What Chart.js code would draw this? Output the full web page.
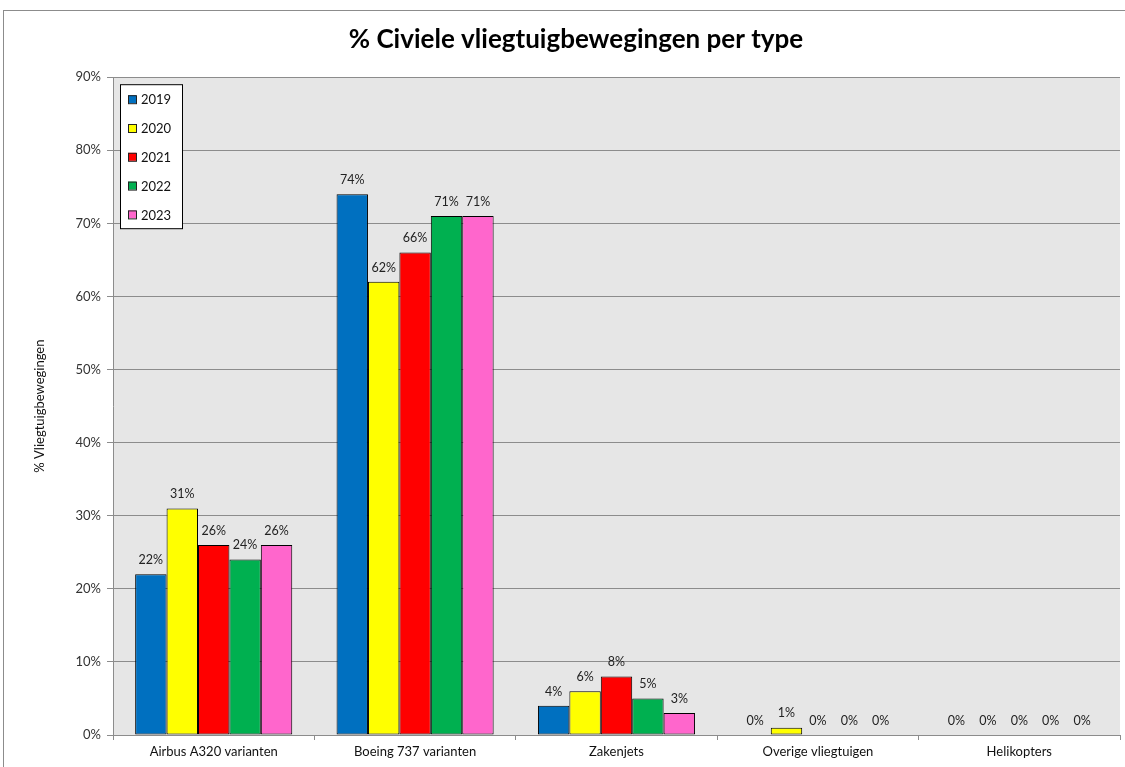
<!DOCTYPE html>
<html>
<head>
<meta charset="utf-8">
<script src="https://cdn.jsdelivr.net/npm/chart.js@4.4.0/dist/chart.umd.min.js"></script>
<style>
  html, body { margin: 0; padding: 0; background: #fff; }
  #wrap { width: 1125px; height: 767px; }
</style>
</head>
<body>
<div id="wrap"><canvas id="myChart" width="1125" height="767"></canvas></div>
<script>
const categories = ['Airbus A320 varianten', 'Boeing 737 varianten', 'Zakenjets', 'Overige vliegtuigen', 'Helikopters'];
const years = ['2019', '2020', '2021', '2022', '2023'];
const v2019 = [22, 74, 4, 0, 0];
const v2020 = [31, 62, 6, 1, 0];
const v2021 = [26, 66, 8, 0, 0];
const v2022 = [24, 71, 5, 0, 0];
const v2023 = [26, 71, 3, 0, 0];
const yearColors = ['#0070c0', '#ffff00', '#ff0000', '#00b050', '#ff66cc'];

const FONT = 'Lato, "Open Sans", sans-serif';

// achtergrond, rand, labels en legenda zoals in Excel
const excelLook = {
   id: 'excelLook',
   beforeDraw(chart) {
      const c = chart.ctx;
      const a = chart.chartArea;
      c.save();
      c.fillStyle = '#fff';
      c.fillRect(0, 0, chart.width, chart.height);
      c.strokeStyle = '#8c8c8c';
      c.lineWidth = 1;
      c.strokeRect(3.5, 10.5, chart.width + 10, chart.height + 10);
      c.fillStyle = '#e6e6e6';
      c.fillRect(a.left, a.top, a.right - a.left, a.bottom - a.top);
      c.restore();
   },
   afterDatasetsDraw(chart) {
      const c = chart.ctx;
      c.save();
      c.font = '12.5px ' + FONT;
      c.fillStyle = '#222';
      c.textAlign = 'center';
      c.textBaseline = 'bottom';
      chart.data.datasets.forEach((ds, i) => {
         chart.getDatasetMeta(i).data.forEach((bar, j) => {
            c.fillText(ds.data[j] + '%', bar.x, bar.y - 8);
         });
      });
      c.restore();
   },
   afterDraw(chart) {
      const c = chart.ctx;
      const a = chart.chartArea;
      const bx = a.left + 7, by = a.top + 7;
      c.save();
      c.fillStyle = '#fff';
      c.fillRect(bx, by, 62, 144);
      c.strokeStyle = '#000';
      c.lineWidth = 1;
      c.strokeRect(bx + 0.5, by + 0.5, 62, 144);
      c.font = '13px ' + FONT;
      c.textBaseline = 'middle';
      c.textAlign = 'left';
      chart.data.datasets.forEach((ds, i) => {
         const y = by + 15 + i * 28.8;
         c.fillStyle = ds.backgroundColor;
         c.fillRect(bx + 8, y - 4, 8, 8);
         c.strokeStyle = '#222';
         c.strokeRect(bx + 8.5, y - 3.5, 8, 8);
         c.fillStyle = '#111';
         c.fillText(ds.label, bx + 21, y + 1);
      });
      c.restore();
   }
};

const series = [v2019, v2020, v2021, v2022, v2023];

let ctx = document.getElementById('myChart');
let myChart = new Chart(ctx, {
   type: 'bar',
   data: {
      labels: categories,
      datasets: series.map((vals, i) => ({
         label: years[i],
         data: vals,
         backgroundColor: yearColors[i],
         borderColor: '#000',
         borderWidth: 1,
         borderSkipped: false,
         categoryPercentage: 0.78,
         barPercentage: 1
      }))
   },
   options: {
      responsive: false,
      animation: false,
      layout: {
         padding: { left: 32, right: 5, top: 0, bottom: 0 }
      },
      plugins: {
         legend: { display: false },
         tooltip: { enabled: false },
         title: {
            display: true,
            text: '% Civiele vliegtuigbewegingen per type',
            color: '#000',
            font: { family: FONT, size: 26, weight: 'bold' },
            padding: { top: 24, bottom: 22 }
         }
      },
      scales: {
         x: {
            grid: {
               display: true,
               drawOnChartArea: false,
               drawTicks: true,
               tickLength: 5,
               color: '#8c8c8c'
            },
            border: { color: '#8c8c8c' },
            ticks: {
               color: '#111',
               font: { family: FONT, size: 13 },
               padding: 4,
               maxRotation: 0
            },
            afterFit(scale) { scale.height = 32; }
         },
         y: {
            min: 0,
            max: 90,
            ticks: {
               stepSize: 10,
               color: '#333',
               font: { family: FONT, size: 13 },
               padding: 6,
               callback: v => v + '%'
            },
            grid: {
               color: '#8c8c8c',
               tickLength: 6
            },
            border: { color: '#8c8c8c' },
            title: {
               display: true,
               text: '% Vliegtuigbewegingen',
               color: '#111',
               font: { family: FONT, size: 13 },
               padding: { top: 0, bottom: 0 }
            },
            afterFit(scale) { scale.width = 81; }
         }
      }
   },
   plugins: [excelLook]
});
</script>
</body>
</html>
